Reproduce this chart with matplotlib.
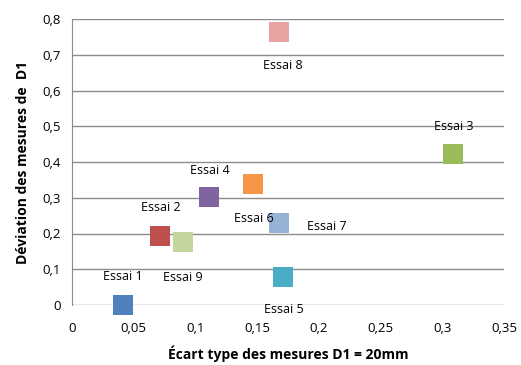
import numpy as np
import matplotlib
matplotlib.use("Agg")
import matplotlib.pyplot as plt

plt.rcParams['font.family'] = ['Open Sans', 'DejaVu Sans']

# data
essais = ["Essai 1", "Essai 2", "Essai 3", "Essai 4", "Essai 5",
          "Essai 6", "Essai 7", "Essai 8", "Essai 9"]
ecart_type = [0.041, 0.071, 0.309, 0.111, 0.171, 0.147, 0.168, 0.168, 0.090]
deviation = [0.0, 0.193, 0.422, 0.302, 0.078, 0.338, 0.229, 0.764, 0.176]
colors = ["#4F81BD", "#C0504D", "#9BBB59", "#8064A2", "#4BACC6",
          "#F79646", "#95B3D7", "#E6A3A1", "#C3D69B"]
# label offsets in pixels (dx, dy)
label_offsets = [(0, 28), (1, 29), (0, 28), (1, 27), (1, -32),
                 (0, -34), (47, -3), (3, -34), (0, -35)]

xticks = [0, 0.05, 0.1, 0.15, 0.2, 0.25, 0.3, 0.35]
yticks = [0, 0.1, 0.2, 0.3, 0.4, 0.5, 0.6, 0.7, 0.8]

fig = plt.figure(figsize=(5.21, 3.65), dpi=100)
ax = fig.add_axes([72 / 521, 60 / 365, 432 / 521, 286 / 365])

for x, y, c, name, off in zip(ecart_type, deviation, colors, essais, label_offsets):
    ax.plot(x, y, marker="s", markersize=14.5, color=c, linestyle="none",
            markeredgewidth=0, zorder=3, clip_on=False)
    ax.annotate(name, (x, y), xytext=off, textcoords="offset pixels",
                ha="center", va="center", fontsize=9, color="#000000", zorder=4)

ax.set_xlim(0, 0.35)
ax.set_ylim(0, 0.8)
ax.set_xticks(xticks)
ax.set_yticks(yticks)
fmt = lambda v: ("%g" % v).replace(".", ",")
ax.set_xticklabels([fmt(v) for v in xticks], fontsize=9.5)
ax.set_yticklabels([fmt(v) for v in yticks], fontsize=9.5)
ax.tick_params(axis="both", length=0, pad=8)
ax.tick_params(axis="x", pad=12)

ax.grid(axis="y", color="#8C8C8C", linewidth=1.0)
ax.set_axisbelow(True)
for side in ["top", "right", "bottom"]:
    ax.spines[side].set_visible(False)
ax.spines["left"].set_color("#8C8C8C")

ax.set_xlabel("Écart type des mesures D1 = 20mm", fontsize=10, fontweight="bold", labelpad=8)
ax.set_ylabel("Déviation des mesures de  D1", fontsize=10, fontweight="bold", labelpad=9)

fig.savefig("out.png", dpi=100)
